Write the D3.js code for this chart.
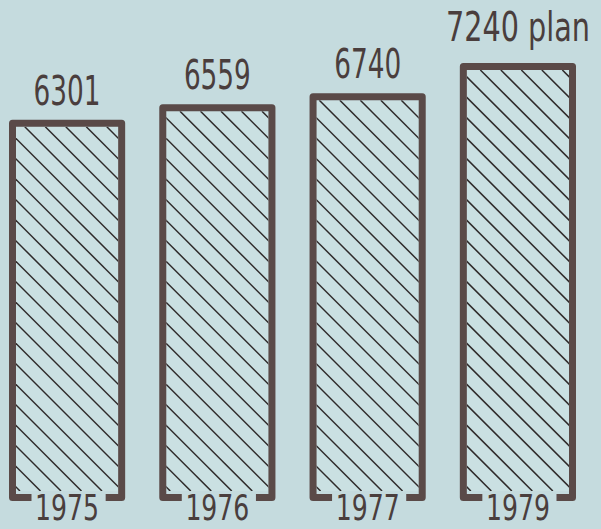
<!DOCTYPE html>
<html>
<head>
<meta charset="utf-8">
<script src="https://cdn.jsdelivr.net/npm/d3@7"></script>
<style>
html,body{margin:0;padding:0;background:#c5dbde;}
svg{display:block;}
text{font-family:"Liberation Sans Narrow","DejaVu Sans Condensed","Roboto",sans-serif;fill:#4a3e3d;}
</style>
</head>
<body>
<script>
const years = ["1975", "1976", "1977", "1979"];
const values = [6301, 6559, 6740, 7240];
const valueLabels = ["6301", "6559", "6740", "7240 plan"];

const W = 601, H = 529;
const svg = d3.select("body").append("svg").attr("width", W).attr("height", H);
svg.append("rect").attr("width", W).attr("height", H).attr("fill", "#c5dbde");

const x = d3.scaleBand().domain(years).range([9, 576]).paddingInner(0.227).paddingOuter(0);
const y = d3.scaleLinear().domain([0, 7240]).range([501, 63]);

const sw = 7;
const stroke = "#5a4a48";
const hatchStep = 20.5;
const defs = svg.append("defs");

function squeezeText(parent, str, cx, baseY, size, targetW) {
  const gg = parent.append("g");
  const t = gg.append("text").attr("x", 0).attr("y", 0)
    .attr("text-anchor", "middle").attr("font-size", size).text(str);
  const nat = t.node().getComputedTextLength();
  const s = Math.min(1, targetW / nat);
  gg.attr("transform", `translate(${cx},${baseY}) scale(${s},1)`);
}

const g = svg.selectAll("g.bar").data(years).join("g").attr("class", "bar");

g.each(function(yr, i) {
  const el = d3.select(this);
  const x0 = x(yr), bw = x.bandwidth();
  const top = y(values[i]), bot = y(0);
  const l = x0 + sw / 2, r = x0 + bw - sw / 2, t = top + sw / 2, b = bot - sw / 2;
  const ix = l + sw / 2, iy = t + sw / 2, iw = r - l - sw, ih = b - t - sw - 3;
  const cid = "clip" + i;
  defs.append("clipPath").attr("id", cid).append("rect")
    .attr("x", ix).attr("y", iy).attr("width", iw).attr("height", ih);
  el.append("rect").attr("x", ix).attr("y", iy).attr("width", iw).attr("height", ih)
    .attr("fill", "#cae0e2");
  const hg = el.append("g").attr("clip-path", "url(#" + cid + ")");
  const starts = d3.range(ix - ih - hatchStep, ix + iw + hatchStep, hatchStep).map(a => a + 4);
  hg.selectAll("line").data(starts).join("line")
    .attr("x1", a => a).attr("y1", iy)
    .attr("x2", a => a + ih).attr("y2", iy + ih)
    .attr("stroke", "#2e2a2a").attr("stroke-width", 1.5);
  const path = d3.path();
  path.moveTo(l + 19, b);
  path.lineTo(l, b);
  path.lineTo(l, t);
  path.lineTo(r, t);
  path.lineTo(r, b);
  path.lineTo(r - 16, b);
  el.append("path").attr("d", path.toString()).attr("fill", "none")
    .attr("stroke", stroke).attr("stroke-width", sw).attr("stroke-linejoin", "round");
  const cx = x0 + bw / 2;
  const extra = i === years.length - 1 ? 7 : 0;
  const lbl = valueLabels[i];
  squeezeText(el, lbl, cx, top - 15 - extra, 40, lbl.length > 4 ? 144 : 67);
  squeezeText(el, yr, cx, 520, 35, 64);
});
</script>
</body>
</html>
